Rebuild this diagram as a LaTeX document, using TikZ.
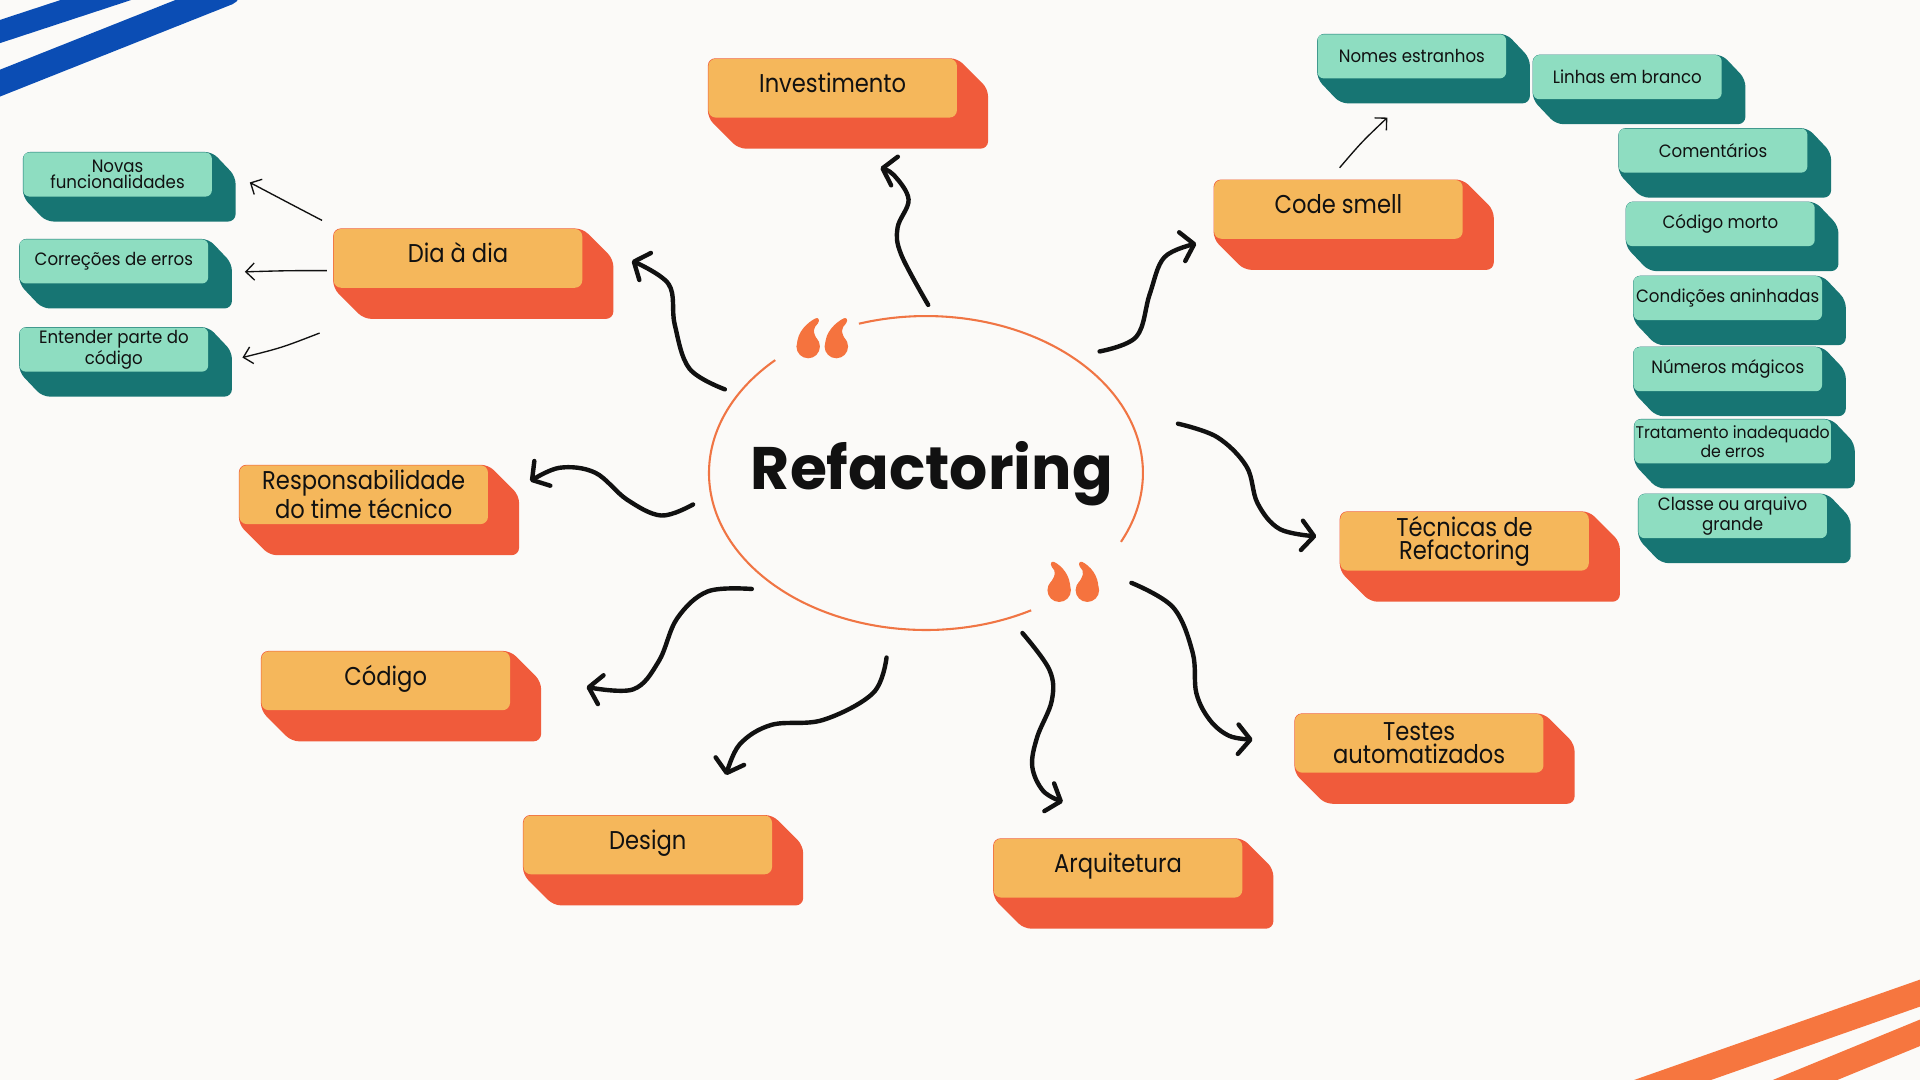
\documentclass[tikz,border=0pt]{standalone}
\usepackage{fontspec}
\setmainfont{Poppins}
\newfontfamily\olabel[FakeStretch=0.88]{Poppins}
\newfontfamily\glabel[FakeStretch=0.93]{Poppins}
\usetikzlibrary{arrows.meta,calc,backgrounds}

\definecolor{bg}{HTML}{FBFAF8}
\definecolor{oface}{HTML}{F5B75B}
\definecolor{oside}{HTML}{F05B3B}
\definecolor{gface}{HTML}{8EDDC1}
\definecolor{gside}{HTML}{177573}
\definecolor{ering}{HTML}{F07544}
\definecolor{qcol}{HTML}{F5733E}
\definecolor{bluestripe}{HTML}{0B4DB4}
\definecolor{orstripe}{HTML}{F6763F}
\definecolor{ink}{HTML}{111111}

\tikzset{
  obox/.style={fill=oface, rounded corners=3pt, minimum width=101.5pt, minimum height=24pt,
    inner sep=1pt, align=center, text=ink, font=\olabel\fontsize{10.5}{9.4}\selectfont},
  obox1/.style={obox, text height=7.5pt, text depth=3.8pt},
  gbox/.style={fill=gface, rounded corners=2.5pt, minimum width=77pt, minimum height=18pt,
    inner sep=0.5pt, align=center, text=ink, font=\glabel\fontsize{7.3}{6.6}\selectfont},
  bigarrow/.style={line width=1.8pt, line cap=round, line join=round, ink,
    -{Straight Barb[round, length=5pt, width=12pt]}},
  thinarrow/.style={line width=0.55pt, ink, -{Straight Barb[length=3.5pt, width=7pt]}},
}

\newcommand\extrude[4]{%
  \begin{scope}[on background layer]
    \fill[#2, rounded corners=3pt] (#1.north west) -- (#1.north east)
      -- ($(#1.north east)+(#3,#4)$) -- ($(#1.south east)+(#3,#4)$)
      -- ($(#1.south west)+(#3,#4)$) -- (#1.south west) -- cycle;
  \end{scope}}

\newcommand\qmark[3]{%
  \begin{scope}[shift={#1}, xscale=#2]
    \fill[qcol] (0,0) circle[radius=4.8pt];
    \fill[qcol] (-9,-1) .. controls (-9.5,-12) and (#3-6,-20) .. (#3,-23)
      .. controls (#3+2,-24) and (#3+4,-22) .. (#3+2,-19)
      .. controls (#3-2,-15) and (3,-12) .. (8.5,-4) -- cycle;
  \end{scope}}

\begin{document}
\begin{tikzpicture}[x=0.5pt, y=-0.5pt]
\begin{scope}[on background layer]
  \fill[bg] (0,0) rectangle (1568,882);
\end{scope}
\useasboundingbox (0,0) rectangle (1568,882);

% corner stripes
\begin{scope}
  \clip (0,0) rectangle (1568,882);
  \draw[bluestripe, line width=9pt] (-30,35.6) -- (110,-10.4);
  \draw[bluestripe, line width=10.2pt, line cap=round] (-30,79.8) -- (186,-6);
  \draw[orstripe, line width=10.4pt] (1330,894.6) -- (1600,799.8);
  \draw[orstripe, line width=10pt] (1440,896) -- (1600,830.3);
\end{scope}

% central ellipse
\draw[ering, line width=0.85pt] plot[domain=252:386, samples=90, smooth]
  ({756.2+177.2*cos(\x)}, {386.3+128.2*sin(\x)});
\draw[ering, line width=0.85pt] plot[domain=61:226, samples=90, smooth]
  ({756.2+177.2*cos(\x)}, {386.3+128.2*sin(\x)});
\node[font=\bfseries\fontsize{24.5}{25}\selectfont, text=ink, anchor=base] (core) at (761,400) {Refactoring};
\qmark{(660,283)}{1}{6}
\qmark{(683,283)}{1}{6}
\qmark{(865,482)}{-1}{4}
\qmark{(888,482)}{-1}{4}

% orange boxes
\node[obox1] (inv) at (680,72) {Investimento};
\node[obox1] (dia) at (374,211) {Dia à dia};
\node[obox1] (code) at (1093,171) {Code smell};
\node[obox] (resp) at (297,404) {Responsabilidade\\do time técnico};
\node[obox1] (cod) at (315,556) {Código};
\node[obox1] (des) at (529,690) {Design};
\node[obox1] (arq) at (913,709) {Arquitetura};
\node[obox] (tes) at (1159,607) {Testes\\automatizados};
\node[obox] (tec) at (1196,442) {Técnicas de\\Refactoring};
\foreach \n in {inv,dia,code,resp,cod,des,arq,tes,tec} {\extrude{\n}{oside}{25}{25}}

% green boxes
\node[gbox] (nov) at (96,142.5) {Novas\\funcionalidades};
\node[gbox] (cor) at (93,213.5) {Correções de erros};
\node[gbox] (ent) at (93,285.5) {Entender parte do\\código};
\node[gbox] (nom) at (1153,46) {Nomes estranhos};
\node[gbox] (lin) at (1329,63) {Linhas em branco};
\node[gbox] (com) at (1399,123) {Comentários};
\node[gbox] (mor) at (1405,183) {Código morto};
\node[gbox] (cnd) at (1411,243.5) {Condições aninhadas};
\node[gbox] (num) at (1411,301.5) {Números mágicos};
\node[gbox, font=\glabel\fontsize{6.9}{6.5}\selectfont] (tra) at (1415,360.5) {Tratamento inadequado\\de erros};
\node[gbox] (cla) at (1415,421.5) {Classe ou arquivo\\grande};
\foreach \n in {nov,cor,ent,nom,lin,com,mor,cnd,num,tra,cla} {\extrude{\n}{gside}{19}{20}}

% arrow end points
\coordinate (a1s) at (758,249);   \coordinate (a1e) at (719,137);
\coordinate (a2s) at (592,318);   \coordinate (a2e) at (516,213);
\coordinate (a3s) at (898,287);   \coordinate (a3e) at (977,199);
\coordinate (a4s) at (566,412);   \coordinate (a4e) at (433,393);
\coordinate (a5s) at (614,481);   \coordinate (a5e) at (479,561);
\coordinate (a6s) at (724,537);   \coordinate (a6e) at (593,633);
\coordinate (a7s) at (835,517);   \coordinate (a7e) at (868,655);
\coordinate (a8s) at (924,476);   \coordinate (a8e) at (1023,604);
\coordinate (a9s) at (962,346);   \coordinate (a9e) at (1075,438);

\draw[bigarrow] plot[smooth, tension=0.6] coordinates {(a1s) (736,208) (733,186) (742,163) (730,143) (a1e)};
\draw[bigarrow] plot[smooth, tension=0.6] coordinates {(a2s) (563,301) (551,265) (546,232) (a2e)};
\draw[bigarrow] plot[smooth, tension=0.6] coordinates {(a3s) (928,275) (939,240) (951,210) (a3e)};
\draw[bigarrow] plot[smooth, tension=0.6] coordinates {(a4s) (540,421) (512,408) (486,386) (457,382) (a4e)};
\draw[bigarrow] plot[smooth, tension=0.6] coordinates {(a5s) (578,483) (553,505) (538,540) (517,563) (a5e)};
\draw[bigarrow] plot[smooth, tension=0.6] coordinates {(a6s) (713,566) (672,588) (630,592) (604,608) (a6e)};
\draw[bigarrow] plot[smooth, tension=0.6] coordinates {(a7s) (857,547) (859,572) (847,602) (843,626) (852,646) (a7e)};
\draw[bigarrow] plot[smooth, tension=0.6] coordinates {(a8s) (958,496) (974,533) (977,566) (988,588) (1004,601) (a8e)};
\draw[bigarrow] plot[smooth, tension=0.6] coordinates {(a9s) (994,357) (1018,381) (1027,411) (1045,432) (a9e)};

% thin arrows
\coordinate (t1s) at (263,180); \coordinate (t1e) at (204,149);
\coordinate (t2s) at (267,221); \coordinate (t2e) at (200,222);
\coordinate (t3s) at (261,272); \coordinate (t3e) at (198,292);
\coordinate (t4s) at (1094,137); \coordinate (t4e) at (1133,96);
\draw[thinarrow] (t1s) .. controls (240,168) .. (t1e);
\draw[thinarrow] (t2s) .. controls (235,221) .. (t2e);
\draw[thinarrow] (t3s) .. controls (230,284) .. (t3e);
\draw[thinarrow] (t4s) .. controls (1112,116) .. (t4e);
\end{tikzpicture}
\end{document}
